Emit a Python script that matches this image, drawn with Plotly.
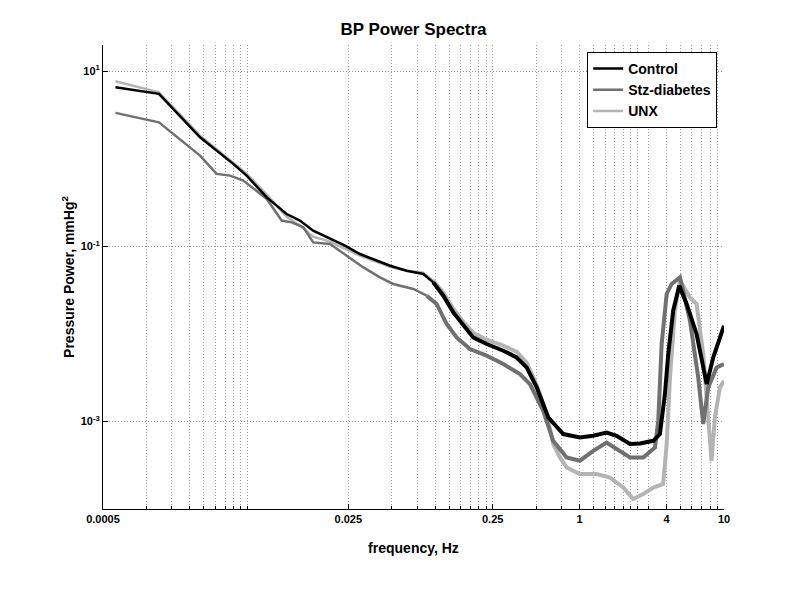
import plotly.graph_objects as go

# ---- data ----
control_freq = [0.00061, 0.00122, 0.00235, 0.00399, 0.00494, 0.00681, 0.00935, 0.01156, 0.01428, 0.01866,
                0.0237, 0.0301, 0.0393, 0.0487, 0.0634, 0.0826, 0.0968, 0.1138, 0.1334, 0.1563,
                0.1832, 0.227, 0.296, 0.366, 0.4295, 0.504, 0.607, 0.771, 1.005, 1.242,
                1.538, 1.803, 2.233, 2.618, 3.236, 3.597, 3.899, 4.111, 4.446, 4.898,
                5.51, 6.457, 7.586, 8.42, 10.0]
control_power = [6.56, 5.52, 1.76, 0.875, 0.643, 0.363, 0.234, 0.197, 0.151, 0.1216,
                 0.1019, 0.0818, 0.0687, 0.0601, 0.0527, 0.0484, 0.0388, 0.0273, 0.0176, 0.01241,
                 0.00912, 0.00767, 0.00643, 0.00538, 0.00414, 0.00245, 0.00111, 0.000718, 0.000656, 0.000687,
                 0.000748, 0.000687, 0.000552, 0.000561, 0.000601, 0.000718, 0.002056, 0.00589, 0.0184, 0.0356,
                 0.022, 0.00998, 0.00267, 0.00538, 0.0124]

stz_freq = [0.00061, 0.00122, 0.00235, 0.00306, 0.00379, 0.00469, 0.00681, 0.00864, 0.01014, 0.0122,
            0.01428, 0.01866, 0.0244, 0.0318, 0.0414, 0.0512, 0.0705, 0.0873, 0.1023, 0.12,
            0.1406, 0.174, 0.227, 0.296, 0.386, 0.453, 0.56, 0.656, 0.8128, 1.005,
            1.242, 1.538, 1.803, 2.233, 2.76, 3.326, 3.505, 3.70, 4.009, 4.336,
            4.955, 5.81, 6.63, 7.18, 7.78, 8.89, 10.0]
stz_power = [3.35, 2.61, 1.089, 0.672, 0.643, 0.564, 0.348, 0.197, 0.188, 0.165,
             0.111, 0.1065, 0.0783, 0.0575, 0.0443, 0.0372, 0.0326, 0.0273, 0.022, 0.01297,
             0.00912, 0.00672, 0.00564, 0.00453, 0.00348, 0.00267, 0.001325, 0.000601, 0.000388, 0.000356,
             0.000462, 0.000575, 0.000484, 0.000388, 0.000388, 0.000505, 0.00102, 0.00767, 0.0286, 0.0372,
             0.0443, 0.01416, 0.00318, 0.000933, 0.00245, 0.00414, 0.00453]

unx_freq = [0.00061, 0.00122, 0.00235, 0.00399, 0.00494, 0.00681, 0.00935, 0.01156, 0.01428, 0.01866,
            0.0237, 0.0301, 0.0393, 0.0487, 0.0634, 0.0826, 0.0968, 0.1138, 0.1334, 0.1563,
            0.1832, 0.227, 0.296, 0.366, 0.4295, 0.504, 0.56, 0.607, 0.656, 0.731,
            0.8128, 1.005, 1.312, 1.622, 2.005, 2.35, 2.76, 3.236, 3.79, 4.009,
            4.227, 4.57, 4.955, 5.81, 6.457, 7.18, 8.2, 8.65, 9.37, 10.0]
unx_power = [7.69, 5.75, 1.84, 0.906, 0.678, 0.39, 0.218, 0.1726, 0.129, 0.1132,
             0.0942, 0.0783, 0.0668, 0.0585, 0.0527, 0.05, 0.0406, 0.0296, 0.0194, 0.01377,
             0.01033, 0.00859, 0.00733, 0.00627, 0.00469, 0.00262, 0.0016, 0.00102, 0.00055, 0.000388,
             0.000298, 0.000251, 0.000251, 0.000229, 0.000176, 0.00013, 0.000148, 0.000176, 0.000193, 0.000552,
             0.00318, 0.0184, 0.0406, 0.0261, 0.022, 0.00589, 0.000356, 0.00111, 0.00245, 0.00292]

x_tick_vals = [0.0005, 0.025, 0.25, 1, 4, 10]
x_tick_text = ["0.0005", "0.025", "0.25", "1", "4", "10"]
x_minor_vals = [0.001, 0.0015, 0.002, 0.0025, 0.003, 0.0035, 0.004, 0.0045, 0.005,
                0.05, 0.075, 0.1, 0.125, 0.15, 0.175, 0.2, 0.225,
                0.5, 0.75, 1.25, 1.5, 1.75, 2, 2.25, 2.5,
                3, 5, 6, 7, 8, 9]
y_tick_vals = [10, 0.1, 0.001]
y_tick_text = ["10<sup>1</sup>", "10<sup>-1</sup>", "10<sup>-3</sup>"]

series = [
    ("UNX", unx_freq, unx_power, "#b4b4b4", 3),
    ("Stz-diabetes", stz_freq, stz_power, "#707070", 2),
    ("Control", control_freq, control_power, "#000000", 1),
]

FONT = "Liberation Sans, Arial, sans-serif"
SPLIT = 0.1
GRID = "#9a9a9a"
GDASH = "1px,2px"

fig = go.Figure()
for name, fx, fy, color, rank in series:
    lo_x = [a for a in fx if a <= SPLIT]
    lo_y = [b for a, b in zip(fx, fy) if a <= SPLIT]
    hi_idx = [i for i, a in enumerate(fx) if a > SPLIT]
    start = max(hi_idx[0] - 1, 0)
    hi_x = fx[start:]
    hi_y = fy[start:]
    fig.add_trace(go.Scatter(x=lo_x, y=lo_y, mode="lines", name=name,
                             line=dict(color=color, width=2.5),
                             legendgroup=name, legendrank=rank))
    fig.add_trace(go.Scatter(x=hi_x, y=hi_y, mode="lines", name=name,
                             line=dict(color=color, width=4),
                             legendgroup=name, showlegend=False))

# page body has an 8px margin: plot area sits at x 103..724, y 45..509 in the window
fig.update_layout(
    width=800, height=600,
    margin=dict(l=95, r=84, t=37, b=99),
    paper_bgcolor="white", plot_bgcolor="white",
    font=dict(family=FONT, color="black", size=12),
    title=dict(text="BP Power Spectra", x=0.5, xref="paper", y=1 - 21 / 600, yref="container",
               yanchor="middle", xanchor="center",
               font=dict(family=FONT, size=17, weight="bold")),
    legend=dict(x=0.989, y=0.985, xanchor="right", yanchor="top",
                bgcolor="white", bordercolor="black", borderwidth=1,
                font=dict(family=FONT, size=14, weight="bold"),
                itemwidth=30, tracegroupgap=0,
                traceorder="normal"),
    showlegend=True,
)

fig.update_xaxes(
    type="log", range=[-3.30103, 1.0],
    tickmode="array", tickvals=x_tick_vals, ticktext=x_tick_text,
    tickfont=dict(family=FONT, size=11, weight="bold"),
    showline=True, linecolor="black", linewidth=1, mirror=False,
    ticks="inside", ticklen=5, tickcolor="black",
    showgrid=True, gridcolor=GRID, griddash=GDASH, gridwidth=1,
    zeroline=False,
    minor=dict(tickmode="array", tickvals=x_minor_vals, showgrid=True,
               gridcolor=GRID, griddash=GDASH, gridwidth=1,
               ticks="inside", ticklen=3, tickcolor="black"),
    title=dict(text="frequency, Hz", font=dict(family=FONT, size=14, weight="bold"), standoff=18),
)
fig.update_yaxes(
    type="log", range=[-4, 1.3],
    tickmode="array", tickvals=y_tick_vals, ticktext=y_tick_text,
    tickfont=dict(family=FONT, size=11, weight="bold"),
    showline=True, linecolor="black", linewidth=1, mirror=False,
    ticks="inside", ticklen=5, tickcolor="black",
    showgrid=True, gridcolor=GRID, griddash=GDASH, gridwidth=1,
    zeroline=False,
    title=dict(text="Pressure Power, mmHg<sup>2</sup>", font=dict(family=FONT, size=14, weight="bold"),
               standoff=2),
)

fig.write_html("out.html")
